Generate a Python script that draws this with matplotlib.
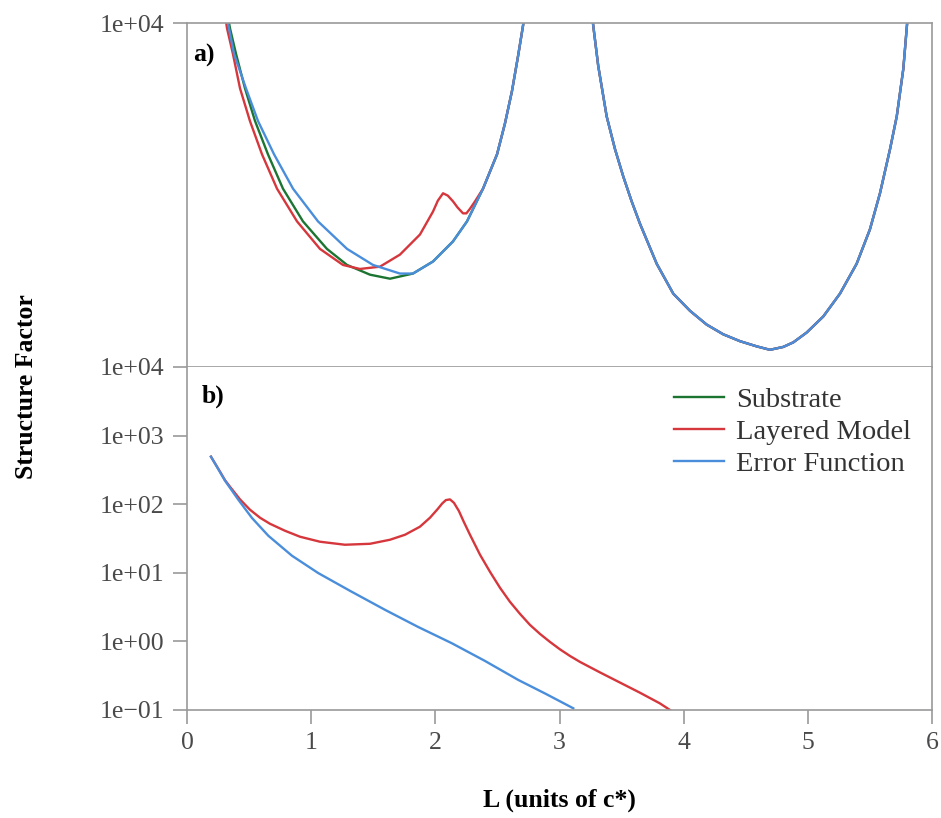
import matplotlib
matplotlib.use("Agg")
import matplotlib.pyplot as plt
from matplotlib.ticker import FuncFormatter, FixedLocator

plt.rcParams['font.family'] = ['Liberation Serif', 'DejaVu Serif']

# ---- panel a) : total structure factor between the Bragg peaks ----
# right-hand trough (L = 3..6) is common to all three models
L_trough2 = [3.235, 3.272, 3.312, 3.380, 3.447, 3.514, 3.581, 3.648, 3.783, 3.916,
             4.051, 4.185, 4.319, 4.454, 4.588, 4.695, 4.802, 4.883, 4.990, 5.124,
             5.259, 5.393, 5.500, 5.581, 5.662, 5.716, 5.769, 5.796, 5.820]
F_trough2 = [10360, 10295, 10225, 10137, 10080, 10032, 9989, 9950, 9880, 9828,
             9798, 9774, 9757, 9745, 9736, 9730, 9735, 9743, 9760, 9788,
             9828, 9880, 9940, 10003, 10080, 10137, 10220, 10290, 10350]

# rising branch towards L = 3, shared once the curves merge
L_rise = [2.384, 2.497, 2.561, 2.617, 2.666, 2.706, 2.735]
F_rise = [10011, 10071, 10125, 10181, 10242, 10295, 10345]

L_sub = [0.282, 0.314, 0.346, 0.395, 0.467, 0.548, 0.652, 0.773, 0.934, 1.127,
         1.289, 1.474, 1.635, 1.820, 1.981, 2.142, 2.255] + L_rise + L_trough2
F_sub = [10380, 10330, 10291, 10246, 10186, 10129, 10071, 10011, 9954, 9906,
         9878, 9861, 9854, 9863, 9884, 9919, 9954] + F_rise + F_trough2

L_lay = [0.265, 0.290, 0.322, 0.370, 0.427, 0.507, 0.604, 0.725, 0.886, 1.071,
         1.256, 1.393, 1.554, 1.715, 1.876, 1.981, 2.020, 2.062, 2.100, 2.142,
         2.180, 2.223, 2.250, 2.279, 2.320] + L_rise + L_trough2
F_lay = [10390, 10340, 10291, 10246, 10186, 10129, 10071, 10011, 9954, 9906,
         9878, 9871, 9875, 9896, 9931, 9971, 9990, 10003, 9999, 9989,
         9978, 9968, 9968, 9976, 9989] + F_rise + F_trough2

L_erf = [0.275, 0.306, 0.338, 0.379, 0.475, 0.572, 0.701, 0.854, 1.055, 1.289,
         1.498, 1.715, 1.820, 1.981, 2.142, 2.255] + L_rise + L_trough2
F_erf = [10380, 10330, 10291, 10246, 10186, 10129, 10071, 10011, 9954, 9906,
         9878, 9863, 9863, 9884, 9919, 9954] + F_rise + F_trough2

# ---- panel b) : film contribution (log10 of the structure factor) ----
L_lay_b = [0.193, 0.266, 0.306, 0.346, 0.427, 0.507, 0.588, 0.668, 0.789, 0.910,
           1.071, 1.272, 1.474, 1.635, 1.756, 1.876, 1.957, 2.021, 2.055, 2.085,
           2.118, 2.150, 2.190, 2.230, 2.279, 2.360, 2.440, 2.521, 2.601, 2.682,
           2.762, 2.843, 2.923, 3.004, 3.085, 3.165, 3.326, 3.487, 3.648, 3.808, 3.890]
logF_lay_b = [2.693, 2.474, 2.350, 2.255, 2.070, 1.920, 1.803, 1.715, 1.613, 1.526,
              1.453, 1.409, 1.423, 1.482, 1.555, 1.672, 1.803, 1.934, 2.010, 2.060,
              2.070, 2.020, 1.900, 1.740, 1.555, 1.263, 1.015, 0.781, 0.577, 0.401,
              0.241, 0.109, -0.007, -0.116, -0.213, -0.299, -0.452, -0.600, -0.748,
              -0.903, -1.0]

L_erf_b = [0.193, 0.306, 0.413, 0.523, 0.655, 0.846, 1.057, 1.313, 1.595, 1.860,
           2.132, 2.400, 2.668, 2.891, 3.111]
logF_erf_b = [2.693, 2.343, 2.066, 1.800, 1.540, 1.248, 0.996, 0.737, 0.460, 0.212,
              -0.026, -0.285, -0.562, -0.766, -0.975]

series_names = ["Substrate", "Layered Model", "Error Function"]
c_green, c_red, c_blue = "#1c7431", "#d6373c", "#4a8edb"

fig = plt.figure(figsize=(9.41, 8.18), dpi=100)
left, right = 187 / 941, 932 / 941
ax_a = fig.add_axes([left, 1 - 367 / 818, right - left, (367 - 23) / 818])
ax_b = fig.add_axes([left, 1 - 710 / 818, right - left, (710 - 367) / 818])

spine_col = "#9a9a9a"
tick_col = "#4a4a4a"
fs = 18.5
lw = 1.7


def sci_label(v, pos):
    return ("%.0e" % v).replace("-", "\u2212")


ax_a.plot(L_sub, F_sub, color=c_green, lw=lw)
ax_a.plot(L_lay, F_lay, color=c_red, lw=lw)
ax_a.plot(L_erf, F_erf, color=c_blue, lw=lw)
ax_a.set_xlim(0, 6)
ax_a.set_ylim(9700, 10300)
ax_a.yaxis.set_major_locator(FixedLocator([10300]))
ax_a.yaxis.set_major_formatter(FuncFormatter(sci_label))
ax_a.set_xticks([])
ax_a.text(0.008, 0.94, "a)", transform=ax_a.transAxes, fontsize=fs,
          fontweight="bold", va="top", ha="left")

ax_b.semilogy([], [], color=c_green, lw=lw, label=series_names[0])
ax_b.semilogy(L_lay_b, [10 ** v for v in logF_lay_b], color=c_red, lw=lw,
              label=series_names[1])
ax_b.semilogy(L_erf_b, [10 ** v for v in logF_erf_b], color=c_blue, lw=lw,
              label=series_names[2])
ax_b.set_xlim(0, 6)
ax_b.set_ylim(0.1, 1e4)
ax_b.yaxis.set_major_locator(FixedLocator([1e-1, 1e0, 1e1, 1e2, 1e3, 1e4]))
ax_b.yaxis.set_minor_locator(FixedLocator([]))
ax_b.yaxis.set_major_formatter(FuncFormatter(sci_label))
ax_b.set_xticks(range(0, 7))
ax_b.text(0.02, 0.95, "b)", transform=ax_b.transAxes, fontsize=fs,
          fontweight="bold", va="top", ha="left")

for ax in (ax_a, ax_b):
    for s in ax.spines.values():
        s.set_color(spine_col)
        s.set_linewidth(1.2)
    ax.tick_params(axis="both", direction="out", length=10, width=1.2,
                   color=spine_col, labelcolor=tick_col, labelsize=fs, pad=6)
ax_b.spines["top"].set_visible(False)

leg = ax_b.legend(loc="upper right", bbox_to_anchor=(0.995, 0.99), frameon=False,
                  fontsize=20.5, handlelength=1.75, handletextpad=0.45,
                  labelspacing=0.2, borderaxespad=0.2)
for t in leg.get_texts():
    t.set_color("#333333")

fig.text(27 / 941, 1 - 387 / 818, "Structure Factor", rotation=90, fontsize=fs,
         fontweight="bold", ha="center", va="center")
fig.text((187 + 932) / 2 / 941, 1 - 800 / 818, "L (units of c*)", fontsize=fs,
         fontweight="bold", ha="center", va="center")

fig.savefig("out.png", dpi=100)
